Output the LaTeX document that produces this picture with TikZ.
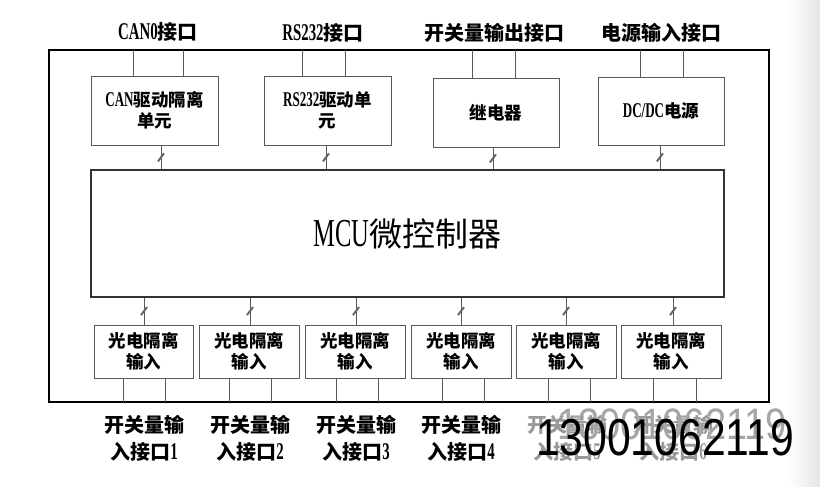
\documentclass[tikz,border=0pt]{standalone}
\usepackage{fontspec}
\setmainfont{Noto Sans CJK SC}
\newfontfamily\latf{Liberation Serif}[Scale=1.2,FakeStretch=0.62]
\newfontfamily\wmf{Liberation Sans}
\newcommand\mylat[1]{{\latf #1}}
\begin{document}
\begin{tikzpicture}[x=1pt,y=-1pt,
  box/.style={draw=black!65,line width=0.9pt,inner sep=0pt,align=center,
    font=\bfseries\fontsize{17.5}{21}\selectfont},
  topbox/.style={box,minimum width=127pt,minimum height=69pt},
  inbox/.style={box,minimum width=100pt,minimum height=53pt},
  wire/.style={draw=black!65,line width=0.9pt},
  slashm/.pic={\draw[line width=2pt,black!60] (-3,4) -- (3,-4);},
  toplabel/.style={inner sep=0pt,font=\bfseries\fontsize{20}{24}\selectfont},
  botlabel/.style={inner sep=0pt,align=center,font=\bfseries\fontsize{20}{27}\selectfont},
  ghostlabel/.style={botlabel,text=black!40}]
\useasboundingbox (0,0) rectangle (820,487);
\shade[left color=white,right color=black!10] (788,0) rectangle (820,487);

% outer frame
\node[draw=black,line width=2.6pt,minimum width=720pt,minimum height=352pt,inner sep=0pt] (frame) at (409,226) {};

% top boxes
\node[topbox] (can) at (154.5,110.5) {\mylat{CAN}驱动隔离\\单元};
\node[topbox] (rs) at (327.5,110.5) {\mylat{RS232}驱动单\\元};
\node[topbox,minimum width=126pt] (relay) at (496,112.5) {继电器};
\node[topbox,minimum width=126pt,minimum height=68pt] (dc) at (661,111) {\mylat{DC/DC}电源};

% MCU
\node[draw=black!80,line width=1.3pt,minimum width=633pt,minimum height=127pt,inner sep=0pt,
  font=\fontsize{33}{36}\selectfont] (mcu) at (407.5,233.5) {\mylat{MCU}微控制器};

% input boxes
\node[inbox,minimum width=99pt] (in1) at (143.5,351.5) {光电隔离\\输入};
\node[inbox] (in2) at (249,351.5) {光电隔离\\输入};
\node[inbox] (in3) at (355,351.5) {光电隔离\\输入};
\node[inbox] (in4) at (461,351.5) {光电隔离\\输入};
\node[inbox] (in5) at (566,351.5) {光电隔离\\输入};
\node[inbox] (in6) at (671,351.5) {光电隔离\\输入};

% top legs to frame
\foreach \n/\xa/\xb in {can/133/183, rs/302/345, relay/472/515, dc/640/683}{
  \coordinate (\n-a) at (\xa,50);
  \coordinate (\n-b) at (\xb,50);
  \draw[wire] (\n-a |- \n.north) -- (\n-a);
  \draw[wire] (\n-b |- \n.north) -- (\n-b);
}

% buses from top boxes to MCU
\foreach \n/\xs in {can/161, rs/326, relay/493, dc/660}{
  \coordinate (\n-s) at (\xs,0);
  \draw[wire] (\n-s |- \n.south) -- pic{slashm} (\n-s |- mcu.north);
}

% buses from MCU to input boxes
\foreach \n/\xs in {in1/144, in2/250, in3/356, in4/461, in5/566, in6/673}{
  \coordinate (\n-s) at (\xs,0);
  \draw[wire] (\n-s |- mcu.south) -- pic{slashm} (\n-s |- \n.north);
}

% bottom legs to frame
\foreach \n/\xa/\xb in {in1/123/165, in2/229/271, in3/336/378, in4/442/484, in5/548/590, in6/653/696}{
  \coordinate (\n-a) at (\xa,402);
  \coordinate (\n-b) at (\xb,402);
  \draw[wire] (\n-a |- \n.south) -- (\n-a);
  \draw[wire] (\n-b |- \n.south) -- (\n-b);
}

% top labels
\node[toplabel] (l-can) at (158,32) {\mylat{CAN0}接口};
\node[toplabel] (l-rs) at (323,33) {\mylat{RS232}接口};
\node[toplabel] (l-relay) at (494,33) {开关量输出接口};
\node[toplabel] (l-dc) at (661,33) {电源输入接口};

% bottom labels
\node[botlabel] (b1) at (144,438) {开关量输\\入接口\mylat{1}};
\node[botlabel] (b2) at (250,438) {开关量输\\入接口\mylat{2}};
\node[botlabel] (b3) at (356,438) {开关量输\\入接口\mylat{3}};
\node[botlabel] (b4) at (461,438) {开关量输\\入接口\mylat{4}};
\node[ghostlabel] (b5) at (567,438) {开关量输\\入接口\mylat{5}};
\node[ghostlabel] (b6) at (673,438) {开关量输\\入接口\mylat{6}};

% watermark
\node[inner sep=0pt,text=black!35,font=\wmf\fontsize{40}{40}\selectfont] (wm2) at (672,424) {\scalebox{0.95}[1.1]{13001062119}};
\node[inner sep=0pt,text=black,font=\wmf\fontsize{44}{44}\selectfont] (wm) at (665,438) {\scalebox{0.97}[1.18]{13001062119}};
\end{tikzpicture}
\end{document}
